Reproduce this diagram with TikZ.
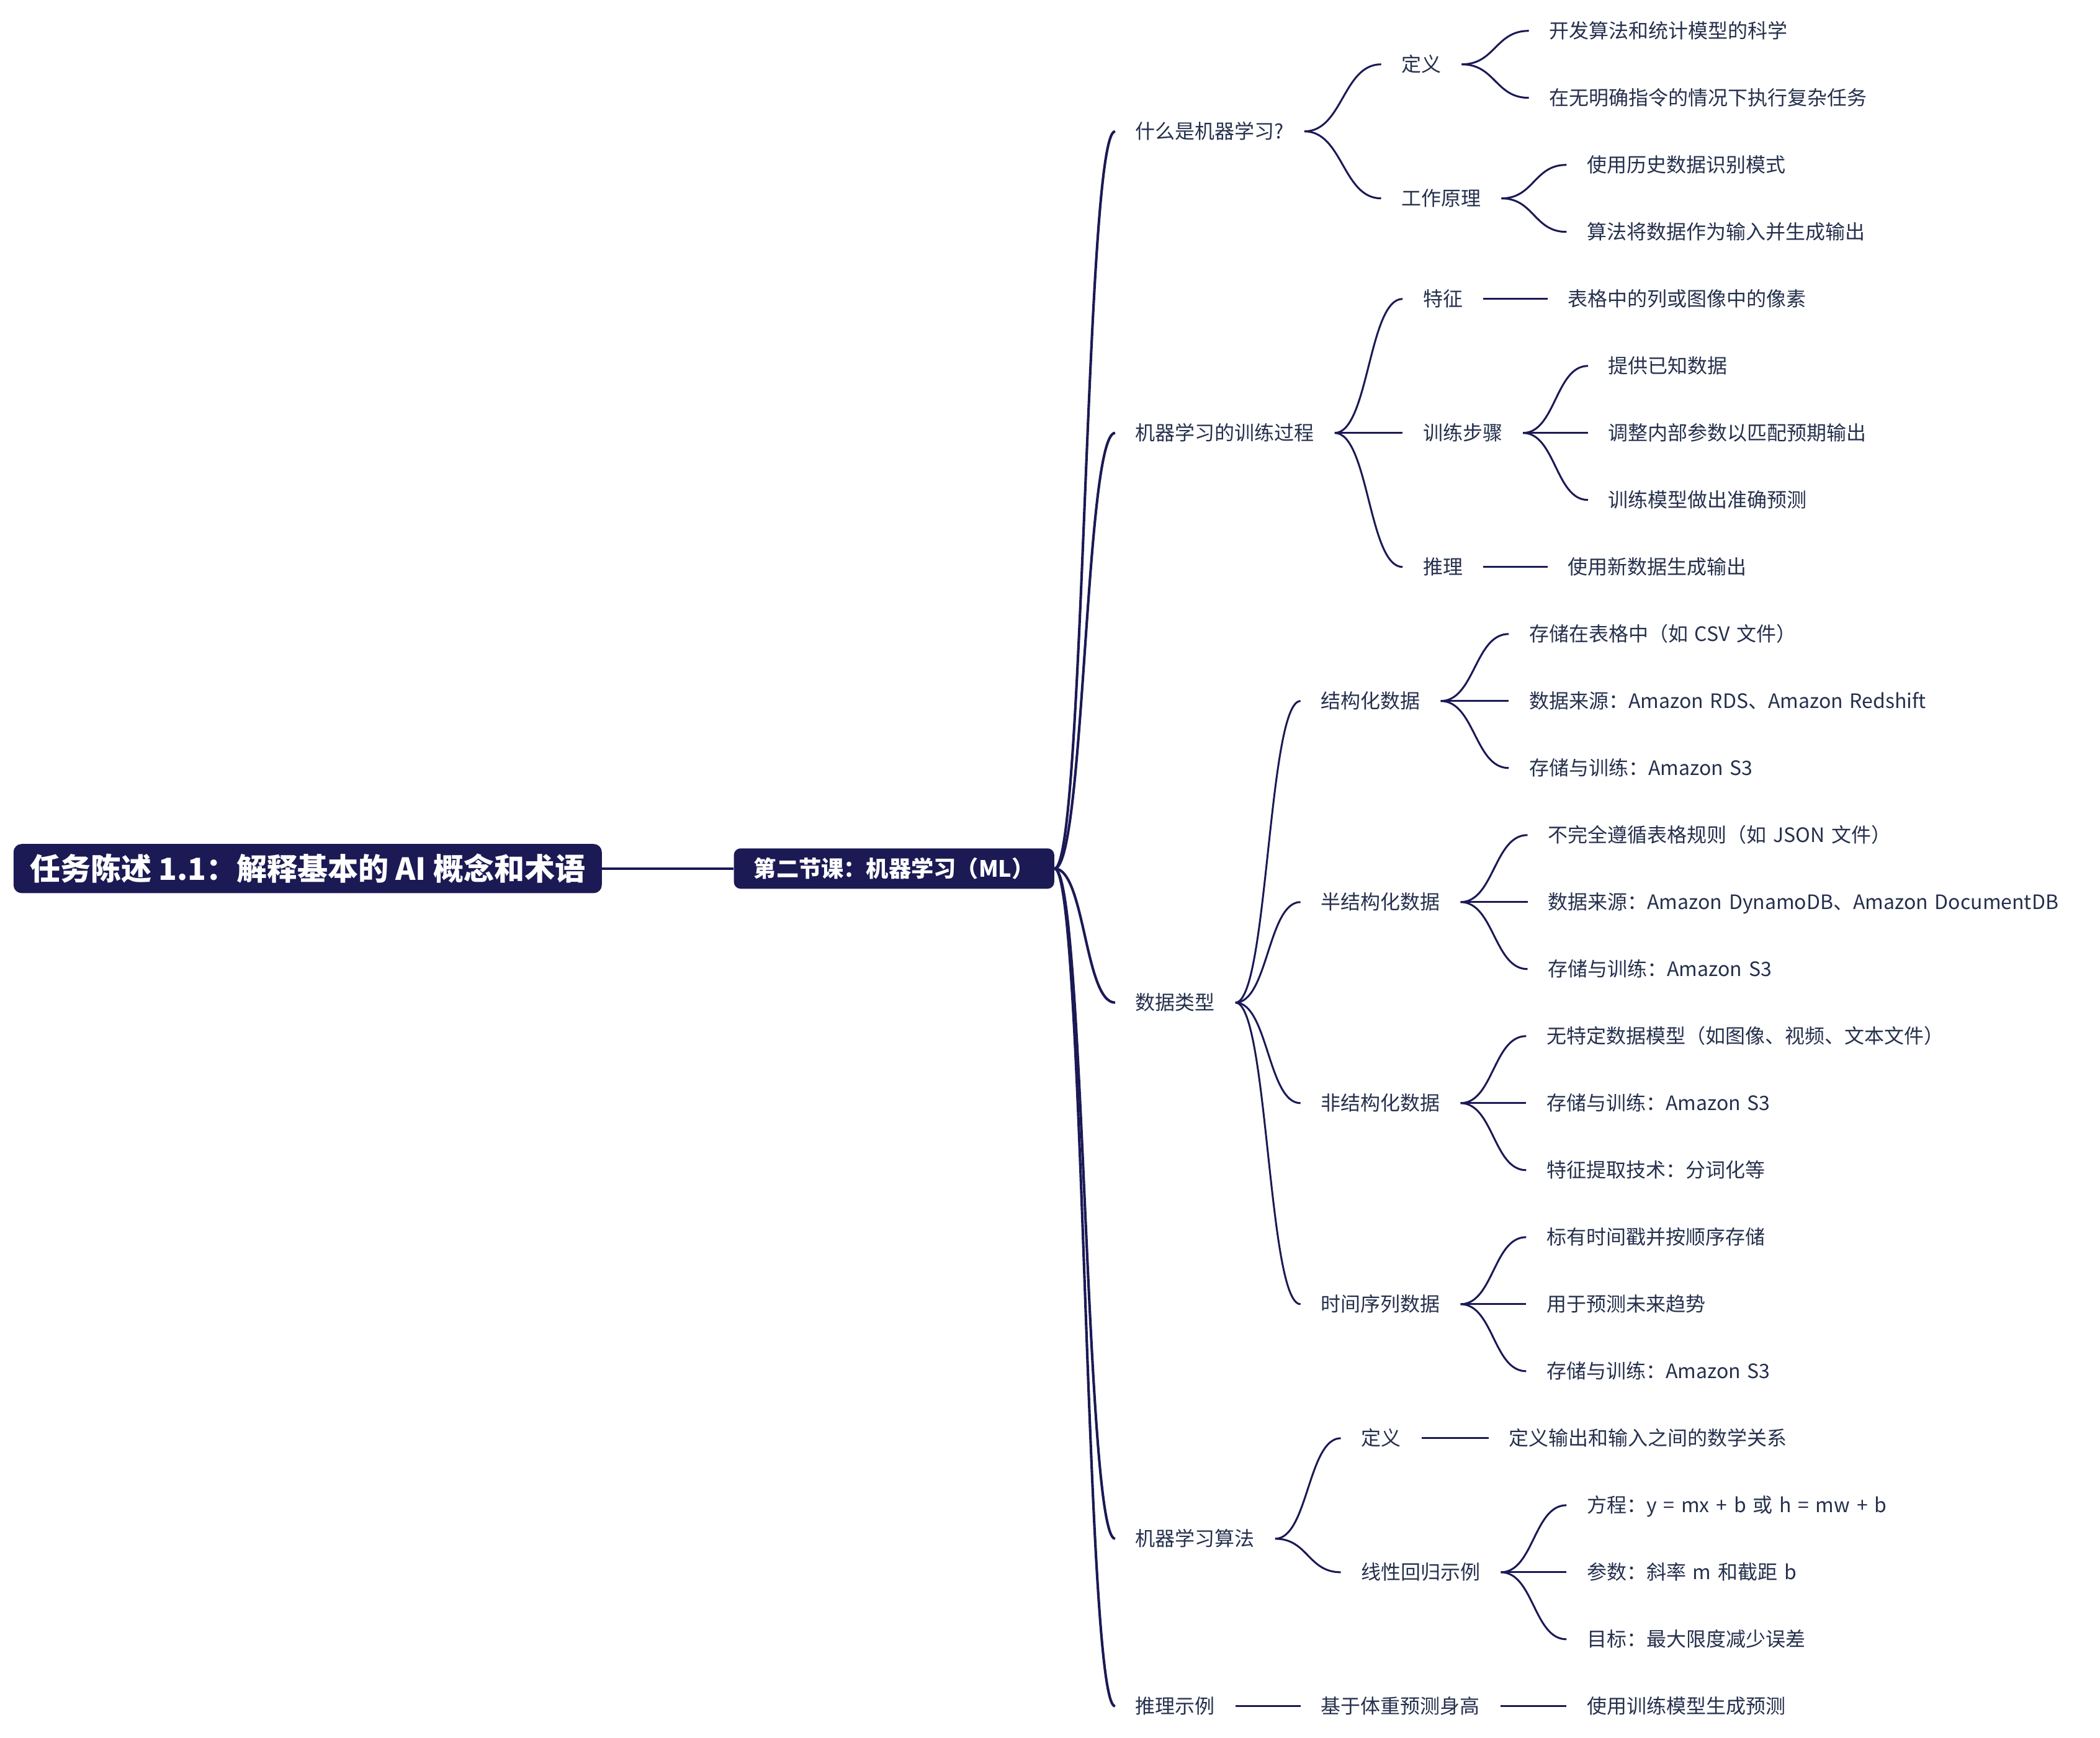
\documentclass[tikz,border=0pt]{standalone}
\usepackage{fontspec}
\setmainfont{Noto Sans CJK SC}
\newfontfamily\leaffont[WordSpace=1.5]{Noto Sans CJK SC}
\usetikzlibrary{calc}
\definecolor{navy}{HTML}{1B1A55}
\definecolor{txt}{HTML}{25304D}
\tikzset{
  lf/.style={anchor=west, inner xsep=15pt, inner ysep=0pt, text=txt,
    font=\leaffont\fontsize{14.75}{18}\selectfont, text height=12.3pt, text depth=1.5pt},
  br/.style={draw=navy, line width=1.4pt},
  brk/.style={draw=navy, line width=1.9pt},
  rootbox/.style={fill=navy, text=white, rounded corners=6pt, inner sep=0pt,
    font=\fontsize{22.6}{26}\selectfont\bfseries},
  lonebox/.style={fill=navy, text=white, rounded corners=5pt, inner sep=0pt,
    font=\fontsize{16.7}{19}\selectfont\bfseries}
}
\newcommand\brc[3][br]{%
  \coordinate (m) at ($(#2.east)!0.5!(#3.west)$);
  \draw[#1] (#2.east) .. controls (m |- #2.east) and (m |- #3.west) .. (#3.west);}
\begin{document}
\begin{tikzpicture}[x=0.998pt,y=-0.9958pt]
\useasboundingbox (0pt,0pt) rectangle (1560pt,-1291pt);

% root and level 1
\node[rootbox, minimum width=437pt, minimum height=36.5pt] (root) at (229,648) {任务陈述 1.1：解释基本的 AI 概念和术语};
\node[lonebox, minimum width=238pt, minimum height=30pt] (l1) at (665.5,648) {第二节课：机器学习（ML）};
\draw[brk] (root.east) -- (l1.west);

% level 2
\node[lf] (a) at (830,98) {什么是机器学习?};
\node[lf] (b) at (830,323) {机器学习的训练过程};
\node[lf] (c) at (830,748) {数据类型};
\node[lf] (d) at (830,1148) {机器学习算法};
\node[lf] (e) at (830,1273) {推理示例};
\foreach \n in {a,b,c,d,e} {\brc[brk]{l1}{\n}}

% A
\node[lf] (a1) at (1028,48) {定义};
\node[lf] (a2) at (1028,148) {工作原理};
\brc{a}{a1}\brc{a}{a2}
\node[lf] (a11) at (1138,23) {开发算法和统计模型的科学};
\node[lf] (a12) at (1138,73) {在无明确指令的情况下执行复杂任务};
\brc{a1}{a11}\brc{a1}{a12}
\node[lf] (a21) at (1166,123) {使用历史数据识别模式};
\node[lf] (a22) at (1166,173) {算法将数据作为输入并生成输出};
\brc{a2}{a21}\brc{a2}{a22}

% B
\node[lf] (b1) at (1044,223) {特征};
\node[lf] (b2) at (1044,323) {训练步骤};
\node[lf] (b3) at (1044,423) {推理};
\brc{b}{b1}\brc{b}{b2}\brc{b}{b3}
\node[lf] (b11) at (1152,223) {表格中的列或图像中的像素};
\draw[br] (b1.east) -- (b11.west);
\node[lf] (b21) at (1182,273) {提供已知数据};
\node[lf] (b22) at (1182,323) {调整内部参数以匹配预期输出};
\node[lf] (b23) at (1182,373) {训练模型做出准确预测};
\brc{b2}{b21}\brc{b2}{b22}\brc{b2}{b23}
\node[lf] (b31) at (1152,423) {使用新数据生成输出};
\draw[br] (b3.east) -- (b31.west);

% C
\node[lf] (c1) at (968,523) {结构化数据};
\node[lf] (c2) at (968,673) {半结构化数据};
\node[lf] (c3) at (968,823) {非结构化数据};
\node[lf] (c4) at (968,973) {时间序列数据};
\brc{c}{c1}\brc{c}{c2}\brc{c}{c3}\brc{c}{c4}
\node[lf] (c11) at (1123,473) {存储在表格中（如 CSV 文件）};
\node[lf] (c12) at (1123,523) {数据来源：Amazon RDS、Amazon Redshift};
\node[lf] (c13) at (1123,573) {存储与训练：Amazon S3};
\brc{c1}{c11}\brc{c1}{c12}\brc{c1}{c13}
\node[lf] (c21) at (1137,623) {不完全遵循表格规则（如 JSON 文件）};
\node[lf] (c22) at (1137,673) {数据来源：Amazon DynamoDB、Amazon DocumentDB};
\node[lf] (c23) at (1137,723) {存储与训练：Amazon S3};
\brc{c2}{c21}\brc{c2}{c22}\brc{c2}{c23}
\node[lf] (c31) at (1136,773) {无特定数据模型（如图像、视频、文本文件）};
\node[lf] (c32) at (1136,823) {存储与训练：Amazon S3};
\node[lf] (c33) at (1136,873) {特征提取技术：分词化等};
\brc{c3}{c31}\brc{c3}{c32}\brc{c3}{c33}
\node[lf] (c41) at (1136,923) {标有时间戳并按顺序存储};
\node[lf] (c42) at (1136,973) {用于预测未来趋势};
\node[lf] (c43) at (1136,1023) {存储与训练：Amazon S3};
\brc{c4}{c41}\brc{c4}{c42}\brc{c4}{c43}

% D
\node[lf] (d1) at (998,1073) {定义};
\node[lf] (d2) at (998,1173) {线性回归示例};
\brc{d}{d1}\brc{d}{d2}
\node[lf] (d11) at (1108,1073) {定义输出和输入之间的数学关系};
\draw[br] (d1.east) -- (d11.west);
\node[lf] (d21) at (1166,1123) {方程：y = mx + b 或 h = mw + b};
\node[lf] (d22) at (1166,1173) {参数：斜率 m 和截距 b};
\node[lf] (d23) at (1166,1223) {目标：最大限度减少误差};
\brc{d2}{d21}\brc{d2}{d22}\brc{d2}{d23}

% E
\node[lf] (e1) at (968,1273) {基于体重预测身高};
\draw[br] (e.east) -- (e1.west);
\node[lf] (e11) at (1166,1273) {使用训练模型生成预测};
\draw[br] (e1.east) -- (e11.west);
\end{tikzpicture}
\end{document}
